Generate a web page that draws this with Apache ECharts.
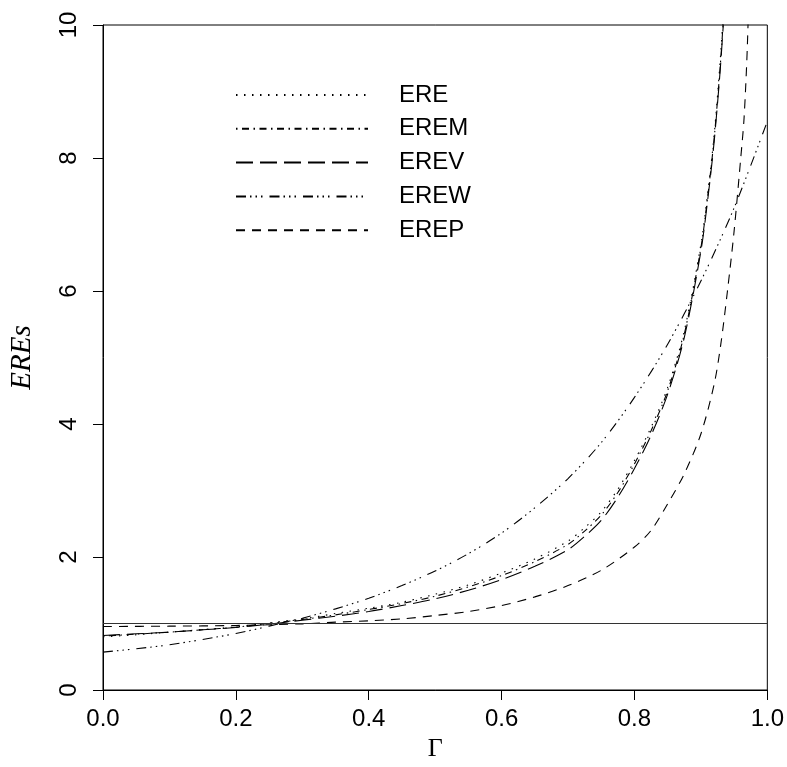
<!DOCTYPE html>
<html><head><meta charset="utf-8">
<script src="https://cdn.jsdelivr.net/npm/echarts@6/dist/echarts.min.js"></script>
<style>html,body{margin:0;padding:0;background:#fff}#c{width:787px;height:767px}</style>
</head><body><div id="c"></div>
<script>
const gammaA = [0,0.05,0.1,0.15,0.2,0.25,0.3,0.35,0.4,0.45,0.5,0.55,0.6,0.65,0.7,0.725,0.75,0.775,0.8,0.825,0.85,0.875,0.9,0.91,0.92,0.93,0.94];
const ERE  = [0.80,0.83,0.87,0.91,0.95,1.01,1.07,1.15,1.23,1.32,1.44,1.58,1.76,1.97,2.24,2.44,2.68,3.02,3.45,3.95,4.55,5.4,6.7,7.45,8.35,9.6,11.2];
const EREM = [0.81,0.84,0.87,0.905,0.945,1.0,1.06,1.13,1.21,1.30,1.41,1.55,1.72,1.93,2.19,2.39,2.63,2.97,3.4,3.9,4.5,5.35,6.65,7.4,8.3,9.5,11.1];
const EREV = [0.82,0.845,0.87,0.905,0.94,0.99,1.05,1.11,1.18,1.27,1.37,1.5,1.66,1.86,2.11,2.31,2.55,2.9,3.33,3.83,4.45,5.3,6.6,7.35,8.25,9.45,11.0];
const gammaW = [0,0.05,0.1,0.15,0.2,0.25,0.3,0.35,0.4,0.45,0.5,0.55,0.6,0.65,0.7,0.75,0.8,0.85,0.9,0.95,1.0];
const EREW = [0.57,0.62,0.68,0.76,0.85,0.96,1.08,1.22,1.38,1.57,1.79,2.05,2.36,2.74,3.18,3.72,4.4,5.2,6.15,7.25,8.55];
const gammaP = [0,0.1,0.2,0.3,0.35,0.4,0.45,0.5,0.55,0.6,0.65,0.7,0.75,0.8,0.825,0.85,0.875,0.9,0.92,0.93,0.94,0.95,0.96,0.965,0.97,0.975];
const EREP = [0.955,0.96,0.97,0.995,1.02,1.04,1.07,1.12,1.18,1.27,1.4,1.57,1.8,2.15,2.4,2.8,3.25,3.85,4.6,5.2,6.0,6.9,8.0,8.6,9.7,11.5];
const refX = [0,1];
const refY = [1,1];
const seriesNames = ['ERE','EREM','EREV','EREW','EREP'];

const zip = (xs, ys) => xs.map((x,i)=>[x, ys[i]]);
const dashes = {
  ERE: [1.5,6.5],
  EREM: [1.5,4.5,7,4.5],
  EREV: [17,7],
  EREW: [10,4,1.5,4,1.5,4,1.5,7],
  EREP: [9,7]
};
const dataMap = {
  ERE: zip(gammaA, ERE), EREM: zip(gammaA, EREM), EREV: zip(gammaA, EREV),
  EREW: zip(gammaW, EREW), EREP: zip(gammaP, EREP)
};
const chart = echarts.init(document.getElementById('c'), null, {renderer:'canvas'});
const series = seriesNames.map(n => ({
  name: n, type: 'line', data: dataMap[n], symbol: 'none', smooth: 0.3,
  clip: true, lineStyle: {color:'#000', width: 1.1, type: dashes[n]}, itemStyle:{color:'#000'}
}));
series.push({
  name: 'ref', type: 'line', data: zip(refX, refY), symbol: 'none', silent: true,
  lineStyle: {color:'#333', width: 1.2, type: 'solid'}
});
chart.setOption({
  animation: false,
  backgroundColor: '#fff',
  grid: {left: 100, right: 19, top: 25, bottom: 75, show: true, borderColor: '#000', borderWidth: 1, backgroundColor: 'transparent'},
  legend: {
    data: seriesNames, orient: 'vertical', left: 235, top: 83, padding: 0,
    itemWidth: 132, itemHeight: 14, itemGap: 9.8,
    itemStyle: {opacity: 0, color: 'rgba(0,0,0,0)', borderWidth: 0},
    textStyle: {fontFamily: 'Liberation Sans', fontSize: 24, color: '#000', padding: [0,0,0,26]}
  },
  xAxis: {
    type: 'value', min: 0, max: 1, interval: 0.2,
    name: 'Γ', nameLocation: 'middle', nameGap: 46,
    nameTextStyle: {fontFamily: 'Liberation Serif', fontSize: 26, color: '#000'},
    axisLine: {show: true, lineStyle: {color: '#000', width: 1}},
    axisTick: {show: true, inside: false, length: 10, lineStyle: {color:'#000'}},
    axisLabel: {margin: 17, fontFamily: 'Liberation Sans', fontSize: 24, color: '#000',
      formatter: v => v.toFixed(1)},
    splitLine: {show: false}
  },
  yAxis: {
    type: 'value', min: 0, max: 10, interval: 2,
    name: 'EREs', nameLocation: 'middle', nameGap: 66,
    nameTextStyle: {fontFamily: 'Liberation Serif', fontStyle: 'italic', fontSize: 29, color: '#000'},
    axisLine: {show: true, lineStyle: {color: '#000', width: 1}},
    axisTick: {show: true, inside: false, length: 10, lineStyle: {color:'#000'}},
    axisLabel: {margin: 22, rotate: 90, fontFamily: 'Liberation Sans', fontSize: 24, color: '#000'},
    splitLine: {show: false}
  },
  series: series
});
</script></body></html>
